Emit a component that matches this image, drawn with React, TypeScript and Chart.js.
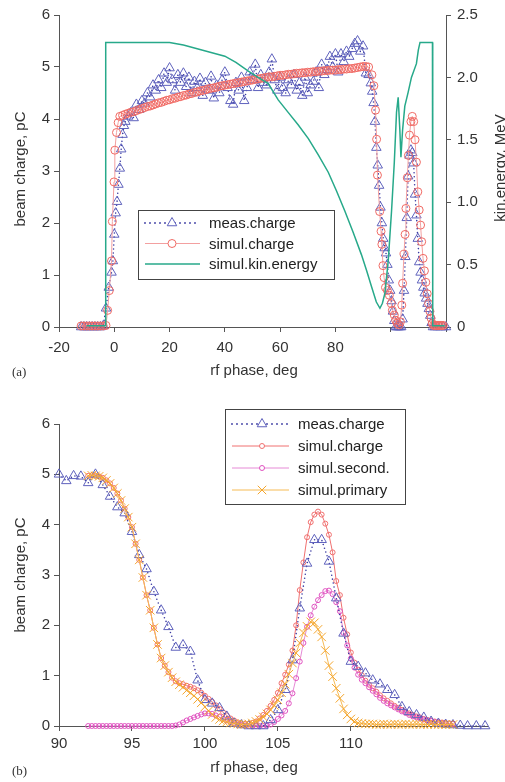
import React, { useEffect, useRef } from 'react';
import { Chart, registerables } from 'chart.js';

Chart.register(...registerables);

const FONT = '"Liberation Sans", Arial, Helvetica, sans-serif';
const SERIF = '"Liberation Serif", "Times New Roman", serif';

// ---------------- (a) data ----------------
const A_X_TICKS_LABELED_MAX = 80;

const A_MEAS_CHARGE: [number, number][] = [
  [-12, 0], [-11, 0], [-10, 0], [-9, 0], [-8, 0], [-7, 0], [-6, 0], [-5, 0], [-4, 0.02],
  [-3, 0.36], [-2, 0.76], [-1, 1.05], [-0.5, 1.27], [0, 1.78], [0.5, 2.19], [1, 2.41], [1.5, 2.74],
  [2, 3.05], [2.5, 3.42], [3, 3.7], [3.5, 3.87],
  [4, 3.95], [5, 4.05], [6, 4.12], [7, 4.02], [8, 4.28], [9, 4.18], [10, 4.35], [11, 4.3],
  [12, 4.5], [13, 4.42], [14, 4.65], [15, 4.55], [16, 4.75], [17, 4.6], [18, 4.88], [19, 4.7],
  [20, 4.98], [21, 4.75], [22, 4.55], [23, 4.85], [24, 4.7], [25, 4.88], [26, 4.62], [27, 4.8],
  [28, 4.5], [29, 4.72], [30, 4.6], [31, 4.78], [32, 4.45], [33, 4.7], [34, 4.55], [35, 4.82],
  [36, 4.4], [37, 4.65], [38, 4.5], [39, 4.75], [40, 4.9], [41, 4.6], [42, 4.35], [43, 4.28],
  [44, 4.7], [45, 4.55], [46, 4.8], [47, 4.35], [48, 4.6], [49, 4.9], [50, 4.75], [51, 5.05],
  [52, 4.6], [53, 4.85], [54, 4.7], [55, 4.65], [56, 4.9], [57, 5.15], [58, 4.75], [59, 4.55],
  [60, 4.8], [61, 4.6], [62, 4.5], [63, 4.75], [64, 4.65], [65, 4.85], [66, 4.55], [67, 4.7],
  [68, 4.45], [69, 4.8], [70, 4.5], [71, 4.65], [72, 4.72], [73, 4.9], [74, 4.6], [75, 5.05],
  [76, 4.85], [77, 4.95], [78, 5.2], [79, 5.0], [80, 5.25], [81, 4.9], [82, 5.25], [83, 5.1],
  [84, 5.3], [85, 5.2], [86, 5.35], [87, 5.45], [88, 5.5], [89, 5.3], [90, 5.4], [91, 4.88],
  [92, 4.85],
  [92.8, 4.69], [93.3, 4.53], [93.8, 4.31], [94.3, 3.95], [94.8, 3.45], [95.3, 3.11], [95.8, 2.72],
  [96.3, 2.3], [96.8, 2.0], [97.3, 1.7], [97.8, 1.52], [98.3, 1.42], [98.8, 1.2], [99.3, 0.9],
  [99.8, 0.7], [100.3, 0.5], [100.8, 0.3], [101.3, 0.12], [101.8, 0], [102.3, 0], [102.8, 0],
  [103.3, 0], [103.8, 0],
  [104.3, 0.15], [104.8, 0.7], [105.3, 1.35], [105.8, 2.1], [106.3, 2.9], [106.8, 3.3], [107.3, 3.4],
  [107.8, 3.35], [108.3, 3.15], [108.8, 2.55], [109.3, 2.15], [109.8, 1.7], [110.3, 1.25],
  [110.8, 1.05], [111.3, 0.9], [111.8, 0.76], [112.3, 0.65], [112.8, 0.55], [113.3, 0.45],
  [113.8, 0.35], [114.3, 0.22], [114.8, 0.08], [115.3, 0], [116, 0], [117, 0], [118, 0], [119, 0],
  [120, 0],
];

const A_SIMUL_CHARGE: [number, number][] = [
  [-12, 0.02], [-11, 0.02], [-10, 0.02], [-9, 0.02], [-8, 0.02], [-7, 0.02], [-6, 0.02], [-5, 0.02],
  [-4, 0.02], [-3, 0.03], [-2.4, 0.32], [-1.8, 0.7], [-1.0, 1.27], [-0.7, 2.03], [-0.1, 2.79],
  [0.2, 3.4], [0.8, 3.74], [1.4, 3.93],
  [2, 4.05], [3, 4.07], [4, 4.09], [5, 4.11], [6, 4.13], [7, 4.14], [8, 4.16], [9, 4.18], [10, 4.2],
  [11, 4.22], [12, 4.24], [13, 4.25], [14, 4.27], [15, 4.29], [16, 4.31], [17, 4.32], [18, 4.34],
  [19, 4.36], [20, 4.37], [21, 4.39], [22, 4.4], [23, 4.42], [24, 4.43], [25, 4.45], [26, 4.46],
  [27, 4.48], [28, 4.49], [29, 4.51], [30, 4.52], [31, 4.54], [32, 4.55], [33, 4.56], [34, 4.58],
  [35, 4.59], [36, 4.6], [37, 4.61], [38, 4.63], [39, 4.64], [40, 4.65], [41, 4.66], [42, 4.67],
  [43, 4.68], [44, 4.69], [45, 4.7], [46, 4.71], [47, 4.72], [48, 4.73], [49, 4.74], [50, 4.75],
  [51, 4.76], [52, 4.77], [53, 4.78], [54, 4.79], [55, 4.8], [56, 4.81], [57, 4.81], [58, 4.82],
  [59, 4.83], [60, 4.84], [61, 4.84], [62, 4.85], [63, 4.86], [64, 4.86], [65, 4.87], [66, 4.88],
  [67, 4.88], [68, 4.89], [69, 4.89], [70, 4.9], [71, 4.9], [72, 4.91], [73, 4.91], [74, 4.92],
  [75, 4.92], [76, 4.93], [77, 4.93], [78, 4.94], [79, 4.94], [80, 4.94], [81, 4.95], [82, 4.95],
  [83, 4.96], [84, 4.96], [85, 4.97], [86, 4.97], [87, 4.98], [88, 4.99], [89, 5.0], [90, 5.01],
  [91, 5.01], [92, 5.0],
  [93.2, 4.85], [93.9, 4.64], [94.5, 4.17], [94.9, 3.61], [95.2, 2.92], [96.0, 2.22], [96.5, 1.84],
  [96.8, 1.59], [97.2, 1.18], [97.6, 0.95], [98.1, 0.76], [98.8, 0.7], [99.5, 0.61], [100.2, 0.45],
  [100.6, 0.32], [101.3, 0.23], [101.8, 0.13], [102.3, 0.07], [103.0, 0.04], [103.5, 0.1],
  [104.0, 0.42], [104.3, 0.84], [104.8, 1.4], [105.2, 1.78], [105.5, 2.28], [106.0, 2.87],
  [106.4, 3.3], [106.8, 3.69], [107.3, 3.95], [107.8, 4.05], [108.3, 3.95], [108.8, 3.6],
  [109.3, 3.17], [109.8, 2.6], [110.3, 2.25], [110.8, 1.96], [111.2, 1.64], [111.7, 1.32],
  [112.2, 1.08], [112.7, 0.86], [113.2, 0.64], [113.7, 0.45], [114.2, 0.3], [114.6, 0.17],
  [115.0, 0.07], [115.5, 0.03], [116, 0.03], [116.5, 0.03], [117, 0.03], [117.5, 0.03],
  [118, 0.03], [118.5, 0.03], [119, 0.03],
];

const A_KIN_ENERGY: [number, number][] = [
  [-10, 0.01], [-3.2, 0.01], [-3.1, 2.28], [20, 2.28], [25, 2.26], [30, 2.23], [35, 2.2], [40, 2.17],
  [44, 2.12], [48.5, 2.05], [52, 2.0], [55.7, 1.95], [59.3, 1.82], [62.9, 1.72], [66.5, 1.62],
  [70.2, 1.51], [73.8, 1.38], [77.4, 1.24], [80.4, 1.09], [83.4, 0.93], [86.4, 0.76], [89.4, 0.58],
  [91.3, 0.45], [93.1, 0.32], [94.8, 0.2], [96.1, 0.15], [97.0, 0.19], [97.9, 0.27], [99.1, 0.53],
  [100.3, 0.93], [101.3, 1.32], [102.1, 1.72], [102.7, 1.84], [103.3, 1.58], [103.7, 1.36],
  [104.3, 1.58], [105.1, 1.77], [106.3, 1.88], [107.5, 2.0], [109.3, 2.11], [110.0, 2.22],
  [110.6, 2.28], [115.1, 2.28], [115.2, 0.01], [119.5, 0.01],
];

// ---------------- (b) data ----------------
const B_MEAS_CHARGE: [number, number][] = [
  [90, 5.0], [90.5, 4.87], [91, 4.97], [91.5, 4.96], [92, 4.83], [92.5, 5.0], [93, 4.79], [93.5, 4.56],
  [94, 4.35], [94.5, 4.23], [95, 3.86], [95.5, 3.4], [96, 3.12], [96.5, 2.67], [97, 2.3], [97.5, 1.97],
  [98, 1.56], [98.5, 1.61], [99, 1.48], [99.5, 0.91], [100, 0.52], [100.5, 0.45], [101, 0.36],
  [101.5, 0.19], [102, 0.05], [102.5, 0.02], [103, 0], [103.5, 0], [104, 0], [104.5, 0.12],
  [105, 0.32], [105.5, 0.72], [106, 1.31], [106.5, 2.34], [107, 3.23], [107.5, 3.7], [108, 3.7],
  [108.5, 3.27], [109, 2.54], [109.5, 1.84], [110, 1.28], [110.5, 1.18], [111, 1.05], [111.5, 0.91],
  [112, 0.83], [112.5, 0.72], [113, 0.62], [113.5, 0.38], [114, 0.28], [114.5, 0.22], [115, 0.17],
  [115.5, 0.09], [116, 0.05], [116.5, 0.03], [117, 0.02], [117.5, 0.01], [118, 0], [118.6, 0],
  [119.2, 0],
];

const B_SIM_PHASE = [
  92, 92.25, 92.5, 92.75, 93, 93.25, 93.5, 93.75,
  94, 94.25, 94.5, 94.75, 95, 95.25, 95.5, 95.75,
  96, 96.25, 96.5, 96.75, 97, 97.25, 97.5, 97.75,
  98, 98.25, 98.5, 98.75, 99, 99.25, 99.5, 99.75,
  100, 100.25, 100.5, 100.75, 101, 101.25, 101.5, 101.75,
  102, 102.25, 102.5, 102.75, 103, 103.25, 103.5, 103.75,
  104, 104.25, 104.5, 104.75, 105, 105.25, 105.5, 105.75,
  106, 106.25, 106.5, 106.75, 107, 107.25, 107.5, 107.75,
  108, 108.25, 108.5, 108.75, 109, 109.25, 109.5, 109.75,
  110, 110.25, 110.5, 110.75, 111, 111.25, 111.5, 111.75,
  112, 112.25, 112.5, 112.75, 113, 113.25, 113.5, 113.75,
  114, 114.25, 114.5, 114.75, 115, 115.25, 115.5, 115.75,
  116, 116.25, 116.5, 116.75, 117,
];

const B_SIMUL_CHARGE = [
  4.97, 4.98, 4.97, 4.96, 4.93, 4.88, 4.82, 4.73,
  4.62, 4.48, 4.32, 4.15, 3.95, 3.62, 3.3, 2.95,
  2.6, 2.3, 1.95, 1.62, 1.35, 1.2, 1.07, 0.96,
  0.89, 0.85, 0.83, 0.8, 0.78, 0.75, 0.71, 0.66,
  0.6, 0.54, 0.48, 0.41, 0.34, 0.27, 0.21, 0.15,
  0.11, 0.07, 0.05, 0.04, 0.04, 0.06, 0.09, 0.15,
  0.22, 0.3, 0.4, 0.52, 0.66, 0.85, 1.02, 1.22,
  1.5, 2.0, 2.7, 3.25, 3.75, 4.05, 4.2, 4.26,
  4.2, 4.02, 3.8, 3.45, 2.88, 2.6, 2.15, 1.82,
  1.46, 1.26, 1.12, 1.01, 0.9, 0.82, 0.75, 0.68,
  0.61, 0.55, 0.5, 0.45, 0.4, 0.36, 0.32, 0.28,
  0.25, 0.22, 0.19, 0.17, 0.14, 0.12, 0.11, 0.09,
  0.08, 0.07, 0.06, 0.05, 0.05,
];

const B_SIMUL_SECOND = [
  0, 0, 0, 0, 0, 0, 0, 0,
  0, 0, 0, 0, 0, 0, 0, 0,
  0, 0, 0, 0, 0, 0, 0, 0,
  0.01, 0.03, 0.07, 0.11, 0.14, 0.17, 0.2, 0.23,
  0.25, 0.25, 0.24, 0.21, 0.18, 0.14, 0.11, 0.08,
  0.05, 0.03, 0.02, 0.01, 0, 0, 0, 0,
  0, 0.01, 0.03, 0.08, 0.14, 0.21, 0.3, 0.45,
  0.65, 0.95, 1.28, 1.65, 1.97, 2.2, 2.37, 2.5,
  2.6, 2.68, 2.69, 2.62, 2.46, 2.28, 1.85, 1.6,
  1.34, 1.16, 1.02, 0.92, 0.85, 0.77, 0.7, 0.63,
  0.56, 0.5, 0.45, 0.41, 0.37, 0.33, 0.29, 0.26,
  0.22, 0.19, 0.17, 0.15, 0.13, 0.11, 0.1, 0.08,
  0.07, 0.06, 0.05, 0.05, 0.04,
];

const B_SIMUL_PRIMARY = [
  4.97, 4.98, 4.97, 4.96, 4.93, 4.88, 4.82, 4.73,
  4.62, 4.48, 4.32, 4.15, 3.95, 3.62, 3.3, 2.95,
  2.6, 2.3, 1.95, 1.62, 1.35, 1.2, 1.07, 0.96,
  0.88, 0.82, 0.77, 0.71, 0.66, 0.6, 0.53, 0.46,
  0.38, 0.3, 0.23, 0.17, 0.13, 0.1, 0.08, 0.06,
  0.05, 0.04, 0.03, 0.03, 0.04, 0.06, 0.09, 0.13,
  0.18, 0.24, 0.32, 0.41, 0.52, 0.66, 0.83, 1.03,
  1.25, 1.45, 1.65, 1.85, 1.98, 2.07, 2.05, 1.92,
  1.77, 1.5, 1.2, 0.98, 0.75, 0.55, 0.34, 0.22,
  0.14, 0.09, 0.06, 0.05, 0.04, 0.04, 0.04, 0.03,
  0.03, 0.04, 0.03, 0.03, 0.04, 0.03, 0.03, 0.04,
  0.03, 0.03, 0.04, 0.03, 0.03, 0.03, 0.04, 0.03,
  0.03, 0.03, 0.03, 0.03, 0.03,
];

// ---------------- colours ----------------
const BLUE_PT = '#5f62bd';
const BLUE_LN = '#3a3aa2';
const RED_PT = '#f06a64';
const RED_LN = '#f3a0a0';
const GREEN = '#27a98a';
const RED_B = '#f07070';
const MAG = '#e052c0';
const MAG_LN = '#e68ad6';
const ORANGE = '#f4a52c';
const ORANGE_LN = '#f6bb55';

type Pt = [number, number];
const toXY = (pts: Pt[]) => pts.map(([x, y]) => ({ x, y }));
const zipXY = (xs: number[], ys: number[]) => xs.map((x, i) => ({ x, y: ys[i] }));

function drawMarker(ctx: CanvasRenderingContext2D, kind: string, x: number, y: number, r: number, color: string, w: number) {
  ctx.save();
  ctx.strokeStyle = color;
  ctx.lineWidth = w;
  ctx.fillStyle = '#ffffff';
  ctx.beginPath();
  if (kind === 'triangle') {
    for (let k = 0; k < 3; k++) {
      const a = (k * 2 * Math.PI) / 3;
      const px = x + Math.sin(a) * r;
      const py = y - Math.cos(a) * r;
      if (k === 0) ctx.moveTo(px, py); else ctx.lineTo(px, py);
    }
    ctx.closePath();
    ctx.fill();
    ctx.stroke();
  } else if (kind === 'circle') {
    ctx.arc(x, y, r, 0, Math.PI * 2);
    ctx.fill();
    ctx.stroke();
  } else if (kind === 'crossRot') {
    const o = Math.cos(Math.PI / 4) * r;
    ctx.moveTo(x - o, y - o); ctx.lineTo(x + o, y + o);
    ctx.moveTo(x - o, y + o); ctx.lineTo(x + o, y - o);
    ctx.stroke();
  }
  ctx.restore();
}

type Txt = { t: string; x: number; y: number; font: string; align?: CanvasTextAlign; rot?: number; color?: string };
type LegItem = { label: string; line: string; lw: number; dash: number[]; cap: CanvasLineCap; marker: string; mColor: string; mR: number; mW: number };
type Legend = { box: [number, number, number, number]; rows: number[]; x0: number; x1: number; mx: number; tx: number; items: LegItem[] };

function decorPlugin(id: string, texts: Txt[], legend: Legend) {
  return {
    id,
    afterDraw(chart: any) {
      const ctx: CanvasRenderingContext2D = chart.ctx;
      ctx.save();
      for (const t of texts) {
        ctx.save();
        ctx.font = t.font;
        ctx.fillStyle = t.color || '#333';
        ctx.textAlign = t.align || 'center';
        ctx.textBaseline = 'middle';
        ctx.translate(t.x, t.y);
        if (t.rot) ctx.rotate(t.rot);
        ctx.fillText(t.t, 0, 0);
        ctx.restore();
      }
      const [bx, by, bw, bh] = legend.box;
      ctx.fillStyle = '#ffffff';
      ctx.fillRect(bx, by, bw, bh);
      ctx.strokeStyle = '#444';
      ctx.lineWidth = 1;
      ctx.strokeRect(bx + 0.5, by + 0.5, bw, bh);
      legend.items.forEach((it, i) => {
        const y = legend.rows[i];
        ctx.save();
        ctx.strokeStyle = it.line;
        ctx.lineWidth = it.lw;
        ctx.setLineDash(it.dash);
        ctx.lineCap = it.cap;
        ctx.beginPath();
        ctx.moveTo(legend.x0, y);
        ctx.lineTo(legend.x1, y);
        ctx.stroke();
        ctx.restore();
        if (it.marker !== 'none') drawMarker(ctx, it.marker, legend.mx, y, it.mR, it.mColor, it.mW);
        ctx.font = `15px ${FONT}`;
        ctx.fillStyle = '#222';
        ctx.textAlign = 'left';
        ctx.textBaseline = 'middle';
        ctx.fillText(it.label, legend.tx, y + 1);
      });
      ctx.restore();
    },
  };
}

const tickFont = { family: FONT, size: 15 };
const axisCommon = {
  grid: { drawOnChartArea: false, drawTicks: true, tickLength: 5, color: '#555', lineWidth: 1 },
  border: { display: true, color: '#555', width: 1 },
};

function makeChartA(canvas: HTMLCanvasElement) {
  const legend: Legend = {
    box: [138, 210, 196, 69],
    rows: [223, 243.5, 264],
    x0: 145, x1: 200, mx: 172, tx: 209,
    items: [
      { label: 'meas.charge', line: BLUE_LN, lw: 1.8, dash: [0, 5], cap: 'round', marker: 'triangle', mColor: BLUE_PT, mR: 5.5, mW: 1 },
      { label: 'simul.charge', line: RED_LN, lw: 1, dash: [], cap: 'butt', marker: 'circle', mColor: RED_PT, mR: 4, mW: 1 },
      { label: 'simul.kin.energy', line: GREEN, lw: 1.5, dash: [], cap: 'butt', marker: 'none', mColor: GREEN, mR: 0, mW: 0 },
    ],
  };
  const texts: Txt[] = [
    { t: 'rf phase, deg', x: 254, y: 371, font: `15px ${FONT}` },
    { t: '(a)', x: 12, y: 373, font: `13px ${SERIF}`, align: 'left' },
    { t: 'beam charge, pC', x: 21, y: 169, font: `15px ${FONT}`, rot: -Math.PI / 2 },
    { t: 'kin.energy, MeV', x: 501, y: 168, font: `15px ${FONT}`, rot: -Math.PI / 2 },
  ];
  return new Chart(canvas, {
    type: 'line',
    data: {
      datasets: [
        {
          label: 'simul.kin.energy', data: toXY(A_KIN_ENERGY), yAxisID: 'y2', order: 0,
          borderColor: GREEN, borderWidth: 1.5, pointRadius: 0, tension: 0, clip: false,
        } as any,
        {
          label: 'simul.charge', data: toXY(A_SIMUL_CHARGE), yAxisID: 'y', order: 1,
          borderColor: RED_LN, borderWidth: 1, pointStyle: 'circle', pointRadius: 4,
          pointBorderColor: RED_PT, pointBackgroundColor: 'rgba(255,255,255,0)', pointBorderWidth: 1,
          tension: 0, clip: false,
        },
        {
          label: 'meas.charge', data: toXY(A_MEAS_CHARGE), yAxisID: 'y', order: 2,
          borderColor: BLUE_LN, borderWidth: 1.6, borderDash: [0, 4], borderCapStyle: 'round',
          pointStyle: 'triangle', pointRadius: 5.5, pointBorderColor: BLUE_PT,
          pointBackgroundColor: 'rgba(255,255,255,0)', pointBorderWidth: 1, tension: 0, clip: false,
        },
      ],
    },
    options: {
      responsive: false,
      animation: false,
      events: [],
      layout: { padding: { top: 11, left: 0, right: 0, bottom: 0 }, autoPadding: false },
      plugins: { legend: { display: false }, tooltip: { enabled: false }, title: { display: false } },
      scales: {
        x: {
          type: 'linear', min: -20, max: 120,
          afterFit: (s: any) => { s.height = 63; },
          ticks: {
            stepSize: 20, autoSkip: false, maxRotation: 0, color: '#333', font: tickFont, padding: 7,
            callback: (v: any) => (Number(v) <= A_X_TICKS_LABELED_MAX ? String(v) : ''),
          },
          ...axisCommon,
        },
        y: {
          type: 'linear', position: 'left', min: 0, max: 6,
          afterFit: (s: any) => { s.width = 59; },
          ticks: { stepSize: 1, color: '#333', font: tickFont, padding: 4 },
          ...axisCommon,
        },
        y2: {
          type: 'linear', position: 'right', min: 0, max: 2.5,
          afterFit: (s: any) => { s.width = 59; },
          ticks: { stepSize: 0.5, color: '#333', font: tickFont, padding: 6 },
          ...axisCommon,
        },
      },
    } as any,
    plugins: [decorPlugin('decorA', texts, legend)],
  });
}

function makeChartB(canvas: HTMLCanvasElement) {
  const legend: Legend = {
    box: [225, 19, 180, 95],
    rows: [34, 56, 78, 100],
    x0: 232, x1: 289, mx: 262, tx: 298,
    items: [
      { label: 'meas.charge', line: BLUE_LN, lw: 1.8, dash: [0, 5], cap: 'round', marker: 'triangle', mColor: BLUE_PT, mR: 5.5, mW: 1 },
      { label: 'simul.charge', line: RED_B, lw: 1, dash: [], cap: 'butt', marker: 'circle', mColor: RED_B, mR: 2.5, mW: 1 },
      { label: 'simul.second.', line: MAG_LN, lw: 1, dash: [], cap: 'butt', marker: 'circle', mColor: MAG, mR: 2.5, mW: 1 },
      { label: 'simul.primary', line: ORANGE_LN, lw: 1, dash: [], cap: 'butt', marker: 'crossRot', mColor: ORANGE, mR: 6, mW: 1 },
    ],
  };
  const texts: Txt[] = [
    { t: 'rf phase, deg', x: 254, y: 378, font: `15px ${FONT}` },
    { t: '(b)', x: 12, y: 382, font: `13px ${SERIF}`, align: 'left' },
    { t: 'beam charge, pC', x: 21, y: 185, font: `15px ${FONT}`, rot: -Math.PI / 2 },
  ];
  return new Chart(canvas, {
    type: 'line',
    data: {
      datasets: [
        {
          label: 'simul.primary', data: zipXY(B_SIM_PHASE, B_SIMUL_PRIMARY), order: 0,
          borderColor: ORANGE_LN, borderWidth: 1, pointStyle: 'crossRot', pointRadius: 6,
          pointBorderColor: ORANGE, pointBorderWidth: 1, tension: 0, clip: false,
        },
        {
          label: 'meas.charge', data: toXY(B_MEAS_CHARGE), order: 1,
          borderColor: BLUE_LN, borderWidth: 1.6, borderDash: [0, 4], borderCapStyle: 'round',
          pointStyle: 'triangle', pointRadius: 5.5, pointBorderColor: BLUE_PT,
          pointBackgroundColor: 'rgba(255,255,255,0)', pointBorderWidth: 1, tension: 0, clip: false,
        },
        {
          label: 'simul.second.', data: zipXY(B_SIM_PHASE, B_SIMUL_SECOND), order: 2,
          borderColor: MAG_LN, borderWidth: 1, pointStyle: 'circle', pointRadius: 2.5,
          pointBorderColor: MAG, pointBackgroundColor: 'rgba(255,255,255,0)', pointBorderWidth: 1,
          tension: 0, clip: false,
        },
        {
          label: 'simul.charge', data: zipXY(B_SIM_PHASE, B_SIMUL_CHARGE), order: 3,
          borderColor: RED_B, borderWidth: 1, pointStyle: 'circle', pointRadius: 2.5,
          pointBorderColor: RED_B, pointBackgroundColor: 'rgba(255,255,255,0)', pointBorderWidth: 1,
          tension: 0, clip: false,
        },
      ],
    },
    options: {
      responsive: false,
      animation: false,
      events: [],
      layout: { padding: { top: 34, left: 0, right: 17, bottom: 0 }, autoPadding: false },
      plugins: { legend: { display: false }, tooltip: { enabled: false }, title: { display: false } },
      scales: {
        x: {
          type: 'linear', min: 90, max: 119.4,
          afterFit: (s: any) => { s.height = 56; },
          afterBuildTicks: (s: any) => { s.ticks = s.ticks.filter((t: any) => t.value <= 115.01); },
          ticks: {
            stepSize: 5, autoSkip: false, maxRotation: 0, color: '#333', font: tickFont, padding: 4,
            callback: (v: any) => (Number(v) <= 110 ? String(v) : ''),
          },
          ...axisCommon,
        },
        y: {
          type: 'linear', position: 'left', min: 0, max: 6,
          afterFit: (s: any) => { s.width = 59; },
          ticks: { stepSize: 1, color: '#333', font: tickFont, padding: 4 },
          ...axisCommon,
        },
      },
    } as any,
    plugins: [decorPlugin('decorB', texts, legend)],
  });
}

export default function App() {
  const refA = useRef<HTMLCanvasElement>(null);
  const refB = useRef<HTMLCanvasElement>(null);
  useEffect(() => {
    document.body.style.margin = '0';
    const a = refA.current ? makeChartA(refA.current) : null;
    const b = refB.current ? makeChartB(refB.current) : null;
    return () => {
      a?.destroy();
      b?.destroy();
    };
  }, []);
  return (
    <div style={{ position: 'absolute', left: 0, top: 0, width: 505, height: 782, background: '#fff', overflow: 'hidden' }}>
      <canvas ref={refA} width={505} height={390} style={{ position: 'absolute', left: 0, top: 0, width: 505, height: 390 }} />
      <canvas ref={refB} width={505} height={392} style={{ position: 'absolute', left: 0, top: 390, width: 505, height: 392 }} />
    </div>
  );
}
